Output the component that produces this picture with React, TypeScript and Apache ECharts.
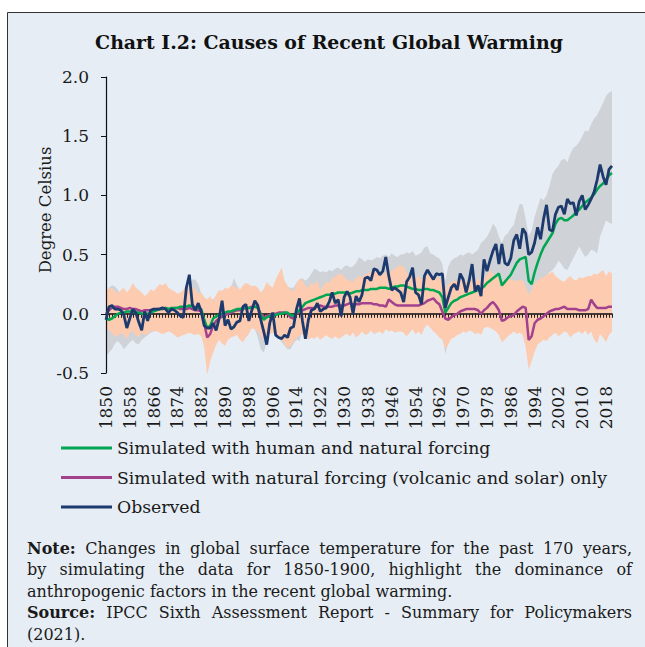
import React, { useEffect, useRef } from "react";
import * as echarts from "echarts";

// ---------- categories ----------
const FIRST_YEAR = 1850;
const LAST_YEAR = 2020;
const YEARS: string[] = [];
for (let y = FIRST_YEAR; y <= LAST_YEAR; y++) YEARS.push(String(y));

// ---------- y axis ----------
const Y_MIN = -0.5;
const Y_MAX = 2.0;
const Y_STEP = 0.5;

// ---------- series (degree Celsius, relative to 1850-1900) ----------
const OBSERVED = [
  -0.05, 0.06, 0.07, 0.04, 0.04, 0.03, -0.01, -0.12, -0.04, 0.04,
  0.01, -0.07, -0.14, 0.02, -0.06, 0.03, 0.04, 0.04, 0.04, 0.05,
  0.04, 0.01, 0.04, 0.03, 0.01, -0.02, -0.03, 0.22, 0.33, 0.08,
  0.03, 0.09, 0.02, -0.1, -0.12, -0.12, -0.08, -0.14, -0.04, 0.11,
  -0.1, -0.05, -0.13, -0.11, -0.07, -0.06, 0.06, 0.08, -0.06, 0.03,
  0.11, 0.07, -0.05, -0.15, -0.26, -0.08, 0.01, -0.18, -0.2, -0.21,
  -0.18, -0.2, -0.12, -0.11, 0.04, 0.13, -0.06, -0.21, -0.05, 0.03,
  0.04, 0.09, 0.02, 0.04, 0.05, 0.1, 0.18, 0.09, 0.12, -0.02,
  0.14, 0.19, 0.14, 0.0, 0.15, 0.1, 0.16, 0.3, 0.31, 0.28,
  0.38, 0.37, 0.33, 0.36, 0.48, 0.32, 0.2, 0.22, 0.2, 0.18,
  0.1, 0.27, 0.31, 0.39, 0.18, 0.16, 0.08, 0.32, 0.37, 0.33,
  0.29, 0.34, 0.33, 0.34, 0.05, 0.14, 0.22, 0.25, 0.2, 0.34,
  0.29, 0.18, 0.28, 0.42, 0.19, 0.24, 0.15, 0.46, 0.36, 0.45,
  0.53, 0.59, 0.42, 0.59, 0.43, 0.41, 0.47, 0.62, 0.67, 0.55,
  0.72, 0.68, 0.5, 0.52, 0.6, 0.73, 0.63, 0.8, 0.92, 0.71,
  0.7, 0.84, 0.9, 0.91, 0.84, 0.97, 0.93, 0.94, 0.83, 0.95,
  1.0, 0.88, 0.92, 0.97, 1.03, 1.13, 1.26, 1.16, 1.09, 1.22,
  1.25,
];

const SIM_HUMAN_NATURAL = [
  -0.04, -0.05, -0.04, -0.02, 0.0, 0.01, 0.01, 0.02, 0.02, 0.02,
  0.01, 0.01, 0.0, 0.0, 0.0, 0.01, 0.02, 0.03, 0.04, 0.04,
  0.05, 0.04, 0.05, 0.05, 0.05, 0.06, 0.06, 0.06, 0.07, 0.06,
  0.05, 0.05, 0.04, -0.05, -0.12, -0.1, -0.04, -0.02, -0.01, 0.0,
  0.01, 0.02, 0.02, 0.03, 0.04, 0.04, 0.05, 0.05, 0.05, 0.05,
  0.06, 0.05, -0.01, -0.05, -0.03, -0.02, -0.01, -0.01, 0.0, 0.0,
  0.01, 0.01, -0.01, -0.02, 0.01, 0.03, 0.06, 0.09, 0.1, 0.11,
  0.12, 0.13, 0.14, 0.15, 0.16, 0.16, 0.17, 0.17, 0.18, 0.18,
  0.18, 0.18, 0.17, 0.18, 0.19, 0.19, 0.2, 0.2, 0.2, 0.21,
  0.21, 0.21, 0.22, 0.22, 0.22, 0.21, 0.22, 0.23, 0.23, 0.24,
  0.24, 0.23, 0.22, 0.21, 0.21, 0.2, 0.2, 0.21, 0.21, 0.2,
  0.2, 0.19, 0.18, 0.14, 0.01, 0.05, 0.09, 0.11, 0.12, 0.14,
  0.15, 0.16, 0.17, 0.18, 0.19, 0.2, 0.21, 0.23, 0.26, 0.28,
  0.3, 0.32, 0.34, 0.24, 0.27, 0.3, 0.33, 0.38, 0.43, 0.46,
  0.47, 0.48, 0.28, 0.25, 0.35, 0.43, 0.5, 0.56, 0.6, 0.64,
  0.68, 0.76, 0.8, 0.81, 0.79, 0.79, 0.81, 0.83, 0.86, 0.88,
  0.91, 0.94, 0.96, 0.98, 1.01, 1.05, 1.08, 1.1, 1.13, 1.17,
  1.19,
];

const SIM_NATURAL = [
  0.0, 0.03, 0.05, 0.06, 0.06, 0.05, 0.04, 0.04, 0.05, 0.04,
  0.04, 0.03, 0.02, 0.03, 0.03, 0.03, 0.03, 0.04, 0.04, 0.04,
  0.05, 0.04, 0.04, 0.05, 0.05, 0.04, 0.04, 0.04, 0.05, 0.04,
  0.03, 0.03, 0.02, -0.08, -0.2, -0.17, -0.1, -0.06, -0.04, -0.02,
  -0.01, 0.0, 0.01, 0.02, 0.03, 0.03, 0.04, 0.05, 0.05, 0.06,
  0.06, 0.05, 0.0, -0.03, -0.02, -0.01, 0.0, 0.0, 0.01, 0.01,
  0.01, 0.0, -0.03, -0.04, 0.0, 0.02, 0.03, 0.04, 0.05, 0.05,
  0.05, 0.06, 0.07, 0.06, 0.06, 0.06, 0.06, 0.07, 0.07, 0.07,
  0.07, 0.08, 0.09, 0.08, 0.08, 0.08, 0.09, 0.09, 0.09, 0.09,
  0.08, 0.08, 0.07, 0.07, 0.06, 0.12, 0.1, 0.08, 0.07, 0.07,
  0.07, 0.07, 0.07, 0.07, 0.07, 0.07, 0.08, 0.09, 0.11, 0.12,
  0.13, 0.1, 0.08, 0.02, -0.04, -0.05, -0.03, -0.01, 0.0, 0.02,
  0.03, 0.04, 0.04, 0.04, 0.04, 0.03, 0.0, 0.03, 0.05, 0.08,
  0.1, 0.07, 0.03, -0.06, -0.05, -0.03, -0.02, -0.01, 0.02, 0.04,
  0.06, 0.05, -0.22, -0.19, -0.08, -0.05, -0.04, -0.02, 0.0, 0.02,
  0.03, 0.04, 0.04, 0.05, 0.06, 0.04, 0.04, 0.04, 0.04, 0.03,
  0.03, 0.03, 0.04, 0.12, 0.08, 0.05, 0.05, 0.05, 0.05, 0.06,
  0.06,
];

// 5-95% range of simulations with human and natural forcing
const HUMAN_RANGE_HIGH = [
  0.18, 0.22, 0.24, 0.23, 0.2, 0.16, 0.18, 0.16, 0.19, 0.22,
  0.2, 0.18, 0.16, 0.14, 0.15, 0.18, 0.17, 0.19, 0.21, 0.21,
  0.22, 0.2, 0.19, 0.17, 0.16, 0.17, 0.19, 0.22, 0.24, 0.29,
  0.29, 0.25, 0.17, 0.12, 0.1, 0.13, 0.12, 0.15, 0.17, 0.2,
  0.2, 0.2, 0.22, 0.3, 0.24, 0.2, 0.22, 0.24, 0.23, 0.22,
  0.23, 0.21, 0.18, 0.2, 0.22, 0.21, 0.22, 0.25, 0.27, 0.3,
  0.26, 0.23, 0.22, 0.22, 0.26, 0.29, 0.3, 0.28, 0.3, 0.34,
  0.38, 0.37, 0.35, 0.36, 0.35, 0.37, 0.36, 0.38, 0.39, 0.37,
  0.4, 0.41, 0.39, 0.4, 0.43, 0.48, 0.46, 0.44, 0.46, 0.45,
  0.46, 0.48, 0.47, 0.49, 0.5, 0.48, 0.51, 0.49, 0.48, 0.5,
  0.5, 0.52, 0.51, 0.53, 0.49, 0.5, 0.52, 0.56, 0.57, 0.51,
  0.5, 0.48, 0.47, 0.42, 0.28, 0.4, 0.45, 0.47, 0.48, 0.5,
  0.49, 0.51, 0.52, 0.5, 0.52, 0.54, 0.6, 0.62, 0.65, 0.7,
  0.76, 0.73, 0.65, 0.6, 0.66, 0.68, 0.72, 0.75, 0.85, 0.93,
  0.92, 0.8, 0.66, 0.7, 0.82, 0.9, 0.98, 0.96, 1.0, 1.08,
  1.18, 1.22, 1.25, 1.3, 1.31, 1.28, 1.35, 1.4, 1.42, 1.45,
  1.5, 1.55, 1.54, 1.6, 1.65, 1.68, 1.73, 1.78, 1.84, 1.87,
  1.88,
];
const HUMAN_RANGE_LOW = [
  -0.36, -0.33, -0.3, -0.25, -0.23, -0.26, -0.3, -0.27, -0.24, -0.22,
  -0.25, -0.26, -0.22, -0.2, -0.18, -0.16, -0.15, -0.14, -0.15, -0.15,
  -0.14, -0.13, -0.14, -0.15, -0.17, -0.16, -0.15, -0.14, -0.13, -0.14,
  -0.15, -0.15, -0.18, -0.25, -0.32, -0.3, -0.26, -0.2, -0.18, -0.2,
  -0.21, -0.19, -0.18, -0.17, -0.16, -0.19, -0.2, -0.18, -0.15, -0.12,
  -0.13, -0.2, -0.3, -0.33, -0.24, -0.17, -0.15, -0.17, -0.2, -0.24,
  -0.27, -0.3, -0.3, -0.25, -0.22, -0.23, -0.14, -0.15, -0.17, -0.15,
  -0.14, -0.13, -0.14, -0.13, -0.12, -0.13, -0.12, -0.11, -0.12, -0.1,
  -0.1, -0.09, -0.1, -0.1, -0.09, -0.08, -0.08, -0.08, -0.07, -0.07,
  -0.06, -0.07, -0.06, -0.06, -0.05, -0.06, -0.05, -0.06, -0.06, -0.05,
  -0.05, -0.06, -0.06, -0.06, -0.07, -0.07, -0.08, -0.06, -0.05, -0.06,
  -0.07, -0.09, -0.12, -0.18, -0.34, -0.24, -0.15, -0.1, -0.07, -0.05,
  -0.03, -0.02, -0.01, 0.0, 0.01, 0.02, 0.03, 0.05, 0.07, 0.09,
  0.1, 0.11, 0.1, 0.03, 0.05, 0.08, 0.1, 0.13, 0.16, 0.19,
  0.21, 0.18, 0.0, 0.02, 0.1, 0.16, 0.22, 0.27, 0.32, 0.35,
  0.37, 0.4, 0.45, 0.42, 0.38, 0.37, 0.42, 0.47, 0.52, 0.57,
  0.52, 0.48, 0.5, 0.54, 0.53, 0.51, 0.65, 0.72, 0.79, 0.77,
  0.76,
];

// 5-95% range of simulations with natural forcing only
const NATURAL_RANGE_HIGH = [
  0.2, 0.21, 0.22, 0.19, 0.17, 0.2, 0.22, 0.18, 0.21, 0.26,
  0.22, 0.2, 0.18, 0.15, 0.17, 0.21, 0.19, 0.22, 0.25, 0.24,
  0.26, 0.22, 0.2, 0.19, 0.17, 0.18, 0.2, 0.25, 0.23, 0.22,
  0.21, 0.17, 0.18, 0.14, 0.12, 0.15, 0.1, 0.16, 0.2, 0.19,
  0.22, 0.21, 0.24, 0.23, 0.22, 0.2, 0.24, 0.26, 0.25, 0.23,
  0.24, 0.22, 0.18, 0.21, 0.27, 0.24, 0.22, 0.29, 0.34, 0.39,
  0.28, 0.24, 0.2, 0.19, 0.25, 0.3, 0.28, 0.24, 0.22, 0.26,
  0.25, 0.28, 0.2, 0.24, 0.27, 0.26, 0.3, 0.31, 0.33, 0.34,
  0.31, 0.29, 0.28, 0.27, 0.3, 0.32, 0.31, 0.33, 0.34, 0.36,
  0.35, 0.36, 0.34, 0.33, 0.35, 0.37, 0.36, 0.38, 0.4, 0.41,
  0.4, 0.35, 0.32, 0.3, 0.31, 0.32, 0.29, 0.31, 0.33, 0.32,
  0.32, 0.3, 0.31, 0.26, 0.21, 0.25, 0.27, 0.28, 0.28, 0.29,
  0.28, 0.27, 0.29, 0.27, 0.28, 0.3, 0.26, 0.29, 0.33, 0.37,
  0.34, 0.32, 0.3, 0.26, 0.28, 0.3, 0.29, 0.28, 0.28, 0.29,
  0.28, 0.23, 0.16, 0.2, 0.26, 0.28, 0.3, 0.31, 0.33, 0.34,
  0.36, 0.32, 0.3, 0.28, 0.27, 0.3, 0.32, 0.29, 0.28, 0.31,
  0.3, 0.31, 0.32, 0.32, 0.34, 0.33, 0.35, 0.37, 0.32, 0.36,
  0.34,
];
const NATURAL_RANGE_LOW = [
  -0.11, -0.14, -0.16, -0.19, -0.19, -0.16, -0.18, -0.21, -0.16, -0.15,
  -0.18, -0.2, -0.16, -0.18, -0.17, -0.15, -0.14, -0.15, -0.16, -0.17,
  -0.16, -0.15, -0.16, -0.18, -0.2, -0.19, -0.18, -0.17, -0.16, -0.17,
  -0.18, -0.17, -0.19, -0.28, -0.52, -0.4, -0.33, -0.26, -0.22, -0.25,
  -0.27, -0.22, -0.2, -0.19, -0.18, -0.22, -0.24, -0.2, -0.17, -0.12,
  -0.13, -0.15, -0.19, -0.22, -0.21, -0.17, -0.16, -0.18, -0.19, -0.22,
  -0.25, -0.29, -0.27, -0.24, -0.2, -0.19, -0.17, -0.19, -0.22, -0.2,
  -0.21, -0.19, -0.22, -0.2, -0.18, -0.2, -0.21, -0.19, -0.21, -0.2,
  -0.18, -0.17, -0.19, -0.16, -0.2, -0.18, -0.15, -0.18, -0.17, -0.14,
  -0.17, -0.16, -0.15, -0.17, -0.13, -0.15, -0.14, -0.16, -0.15, -0.15,
  -0.16, -0.19, -0.16, -0.13, -0.17, -0.15, -0.18, -0.12, -0.09, -0.12,
  -0.15, -0.17, -0.2, -0.22, -0.3, -0.26, -0.21, -0.2, -0.18, -0.17,
  -0.15, -0.16, -0.14, -0.15, -0.17, -0.16, -0.18, -0.12, -0.11, -0.12,
  -0.13, -0.15, -0.18, -0.24, -0.22, -0.19, -0.17, -0.15, -0.17, -0.16,
  -0.18, -0.28, -0.47, -0.4, -0.32, -0.26, -0.24, -0.22, -0.23, -0.2,
  -0.18, -0.16, -0.19, -0.17, -0.15, -0.16, -0.2, -0.17, -0.16, -0.15,
  -0.17, -0.14, -0.18, -0.15, -0.22, -0.25, -0.17, -0.2, -0.24, -0.18,
  -0.15,
];

// ---------- texts ----------
const TITLE = "Chart I.2: Causes of Recent Global Warming";
const Y_NAME = "Degree Celsius";
const NAME_HUMAN = "Simulated with human and natural forcing";
const NAME_NATURAL = "Simulated with natural forcing (volcanic and solar) only";
const NAME_OBSERVED = "Observed";
const NOTE_LINES = [
  { parts: [{ text: "Note:", bold: true }, { text: "Changes in global surface temperature for the past 170 years," }], justify: true },
  { parts: [{ text: "by simulating the data for 1850-1900, highlight the dominance of" }], justify: true },
  { parts: [{ text: "anthropogenic factors in the recent global warming." }], justify: false },
  { parts: [{ text: "Source:", bold: true }, { text: "IPCC Sixth Assessment Report - Summary for Policymakers" }], justify: true },
  { parts: [{ text: "(2021)." }], justify: false },
];

// ---------- style ----------
const FONT = '"DejaVu Serif", serif';
const BG = "#e6edf4";
const C_OBS = "#1c3a6e";
const C_HUMAN = "#00a651";
const C_NAT = "#a2428e";
const C_BAND_HUMAN = "#cfd2d6";
const C_BAND_NAT = "#fdcbb0";
const TEXT = "#1a1a1a";

const NOTE_LEFT = 27;
const NOTE_RIGHT = 632;
const NOTE_TOP = 548;
const NOTE_STEP = 21.5;
const NOTE_SIZE = 16;

function buildNote(): any[] {
  const canvas = document.createElement("canvas");
  const ctx = canvas.getContext("2d") as CanvasRenderingContext2D;
  const fontOf = (b: boolean) => `${b ? "bold " : ""}${NOTE_SIZE}px ${FONT}`;
  const els: any[] = [];
  NOTE_LINES.forEach((line, li) => {
    const y = NOTE_TOP + li * NOTE_STEP;
    if (!line.justify) {
      const txt = line.parts.map((p) => p.text).join(" ");
      els.push({
        type: "text", x: NOTE_LEFT, y, silent: true,
        style: { text: txt, font: fontOf(false), fill: TEXT, textAlign: "left", textVerticalAlign: "middle" },
      });
      return;
    }
    const words: { t: string; b: boolean }[] = [];
    line.parts.forEach((p: any) =>
      p.text.split(" ").filter(Boolean).forEach((w: string) => words.push({ t: w, b: !!p.bold }))
    );
    const widths = words.map((w) => {
      ctx.font = fontOf(w.b);
      return ctx.measureText(w.t).width;
    });
    const sum = widths.reduce((a, b) => a + b, 0);
    const gap = (NOTE_RIGHT - NOTE_LEFT - sum) / (words.length - 1);
    let x = NOTE_LEFT;
    words.forEach((w, i) => {
      els.push({
        type: "text", x, y, silent: true,
        style: { text: w.t, font: fontOf(w.b), fill: TEXT, textAlign: "left", textVerticalAlign: "middle" },
      });
      x += widths[i] + gap;
    });
  });
  return els;
}

export default function App() {
  const ref = useRef<HTMLDivElement>(null);

  useEffect(() => {
    if (!ref.current) return;
    const chart = echarts.init(ref.current, undefined, { renderer: "svg" });

    const humanBand = HUMAN_RANGE_HIGH.map((v, i) => +(v - HUMAN_RANGE_LOW[i]).toFixed(3));
    const natBand = NATURAL_RANGE_HIGH.map((v, i) => +(v - NATURAL_RANGE_LOW[i]).toFixed(3));

    const bandBase = {
      type: "line", symbol: "none", showSymbol: false, silent: true,
      stackStrategy: "all", lineStyle: { width: 0, opacity: 0 }, z: 2,
      xAxisIndex: 0, yAxisIndex: 0,
    };

    const option: any = {
      animation: false,
      backgroundColor: BG,
      grid: { left: 106, right: 33, top: 77, bottom: 274, containLabel: false },
      xAxis: [
        {
          type: "category", data: YEARS, boundaryGap: false, z: 3,
          axisLine: { show: true, onZero: true, lineStyle: { color: "#111", width: 1.5 } },
          axisTick: { show: true, interval: 0, length: 4, lineStyle: { color: "#222", width: 1 } },
          axisLabel: { show: false }, splitLine: { show: false },
        },
        {
          type: "category", data: YEARS, boundaryGap: false, position: "bottom",
          axisLine: { show: false, onZero: false }, axisTick: { show: false },
          axisLabel: { show: true, interval: 7, rotate: 90, margin: 13, fontFamily: FONT, fontSize: 17, color: TEXT, hideOverlap: false },
          splitLine: { show: false },
        },
      ],
      yAxis: {
        type: "value", min: Y_MIN, max: Y_MAX, interval: Y_STEP, z: 3,
        axisLine: { show: true, lineStyle: { color: "#111", width: 1.2 } },
        axisTick: { show: true, length: 5, lineStyle: { color: "#111", width: 1 } },
        axisLabel: { formatter: (v: number) => v.toFixed(1), fontFamily: FONT, fontSize: 17, color: TEXT, margin: 17 },
        splitLine: { show: false },
      },
      legend: {
        data: [NAME_HUMAN, NAME_NATURAL, NAME_OBSERVED],
        orient: "vertical", left: 56, top: 433,
        icon: "rect", itemWidth: 51, itemHeight: 3, itemGap: 9.5,
        textStyle: { fontFamily: FONT, fontSize: 17.3, color: TEXT, lineHeight: 20 },
        selectedMode: false,
      },
      graphic: [
        { type: "rect", silent: true, shape: { x: 0, y: 0, width: 645, height: 12.5 }, style: { fill: "#ffffff" } },
        { type: "rect", silent: true, shape: { x: 0, y: 0, width: 7.5, height: 647 }, style: { fill: "#ffffff" } },
        { type: "line", silent: true, shape: { x1: 7.5, y1: 12.5, x2: 645, y2: 12.5 }, style: { stroke: "#333", lineWidth: 1 } },
        { type: "line", silent: true, shape: { x1: 7.5, y1: 12.5, x2: 7.5, y2: 647 }, style: { stroke: "#333", lineWidth: 1 } },
        {
          type: "text", x: 329, y: 42, silent: true,
          style: { text: TITLE, font: `bold 18.9px ${FONT}`, fill: "#111", textAlign: "center", textVerticalAlign: "middle" },
        },
        {
          type: "text", x: 45, y: 210, rotation: Math.PI / 2, silent: true,
          style: { text: Y_NAME, font: `16.5px ${FONT}`, fill: TEXT, textAlign: "center", textVerticalAlign: "middle" },
        },
        ...buildNote(),
      ],
      series: [
        { ...bandBase, name: "human-range-low", data: HUMAN_RANGE_LOW, stack: "humanRange" },
        { ...bandBase, name: "human-range", data: humanBand, stack: "humanRange", areaStyle: { color: C_BAND_HUMAN, opacity: 1 } },
        { ...bandBase, name: "natural-range-low", data: NATURAL_RANGE_LOW, stack: "naturalRange" },
        { ...bandBase, name: "natural-range", data: natBand, stack: "naturalRange", areaStyle: { color: C_BAND_NAT, opacity: 1 } },
        {
          type: "line", name: NAME_NATURAL, data: SIM_NATURAL, symbol: "none", showSymbol: false, z: 4,
          itemStyle: { color: C_NAT }, lineStyle: { color: C_NAT, width: 2.5 },
        },
        {
          type: "line", name: NAME_HUMAN, data: SIM_HUMAN_NATURAL, symbol: "none", showSymbol: false, z: 5,
          itemStyle: { color: C_HUMAN }, lineStyle: { color: C_HUMAN, width: 2.5 },
        },
        {
          type: "line", name: NAME_OBSERVED, data: OBSERVED, symbol: "none", showSymbol: false, z: 6,
          itemStyle: { color: C_OBS }, lineStyle: { color: C_OBS, width: 2.8 },
        },
      ],
    };

    chart.setOption(option);
    return () => chart.dispose();
  }, []);

  return (
    <div
      ref={ref}
      style={{ position: "absolute", left: 0, top: 0, width: 645, height: 647 }}
    />
  );
}
